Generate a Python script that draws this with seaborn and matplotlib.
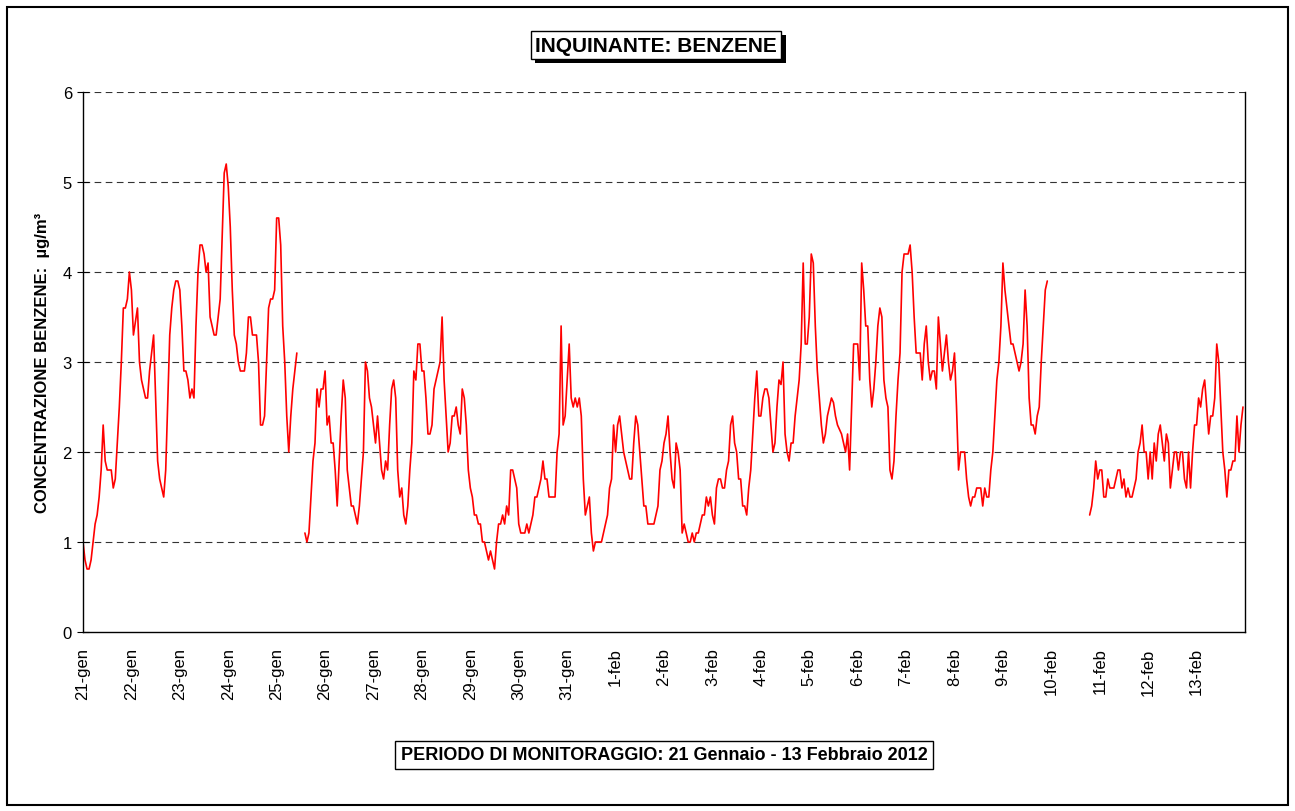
import numpy as np
import pandas as pd
import seaborn as sns
import matplotlib.pyplot as plt
from matplotlib.patches import Rectangle
from matplotlib import patheffects

# hourly benzene values (ug/m3), one list per day, None = missing
gen21 = [1.0, 0.8, 0.7, 0.7, 0.8, 1.0, 1.2, 1.3, 1.5, 1.8, 2.3, 1.9, 1.8, 1.8, 1.8, 1.6, 1.7, 2.1, 2.5, 3.0, 3.6, 3.6, 3.7, 4.0]
gen22 = [3.8, 3.3, 3.45, 3.6, 3.0, 2.8, 2.7, 2.6, 2.6, 2.9, 3.1, 3.3, 2.6, 1.9, 1.7, 1.6, 1.5, 1.8, 2.55, 3.3, 3.6, 3.8, 3.9, 3.9]
gen23 = [3.8, 3.4, 2.9, 2.9, 2.8, 2.6, 2.7, 2.6, 3.4, 4.0, 4.3, 4.3, 4.2, 4.0, 4.1, 3.5, 3.4, 3.3, 3.3, 3.5, 3.7, 4.4, 5.1, 5.2]
gen24 = [4.95, 4.5, 3.8, 3.3, 3.2, 3.0, 2.9, 2.9, 2.9, 3.1, 3.5, 3.5, 3.3, 3.3, 3.3, 3.0, 2.3, 2.3, 2.4, 3.0, 3.6, 3.7, 3.7, 3.8]
gen25 = [4.6, 4.6, 4.3, 3.4, 3.0, 2.4, 2.0, 2.4, 2.7, 2.9, 3.1, None, None, None, 1.1, 1.0, 1.1, 1.5, 1.9, 2.1, 2.7, 2.5, 2.7, 2.7]
gen26 = [2.9, 2.3, 2.4, 2.1, 2.1, 1.8, 1.4, 1.9, 2.4, 2.8, 2.6, 1.8, 1.6, 1.4, 1.4, 1.3, 1.2, 1.4, 1.7, 2.0, 3.0, 2.9, 2.6, 2.5]
gen27 = [2.3, 2.1, 2.4, 2.1, 1.8, 1.7, 1.9, 1.8, 2.3, 2.7, 2.8, 2.6, 1.8, 1.5, 1.6, 1.3, 1.2, 1.4, 1.8, 2.1, 2.9, 2.8, 3.2, 3.2]
gen28 = [2.9, 2.9, 2.6, 2.2, 2.2, 2.3, 2.7, 2.8, 2.9, 3.0, 3.5, 2.8, 2.4, 2.0, 2.1, 2.4, 2.4, 2.5, 2.3, 2.2, 2.7, 2.6, 2.3, 1.8]
gen29 = [1.6, 1.5, 1.3, 1.3, 1.2, 1.2, 1.0, 1.0, 0.9, 0.8, 0.9, 0.8, 0.7, 1.0, 1.2, 1.2, 1.3, 1.2, 1.4, 1.3, 1.8, 1.8, 1.7, 1.6]
gen30 = [1.2, 1.1, 1.1, 1.1, 1.2, 1.1, 1.2, 1.3, 1.5, 1.5, 1.6, 1.7, 1.9, 1.7, 1.7, 1.5, 1.5, 1.5, 1.5, 2.0, 2.2, 3.4, 2.3, 2.4]
gen31 = [2.8, 3.2, 2.6, 2.5, 2.6, 2.5, 2.6, 2.4, 1.7, 1.3, 1.4, 1.5, 1.1, 0.9, 1.0, 1.0, 1.0, 1.0, 1.1, 1.2, 1.3, 1.6, 1.7, 2.3]
feb01 = [2.0, 2.3, 2.4, 2.2, 2.0, 1.9, 1.8, 1.7, 1.7, 2.1, 2.4, 2.3, 2.0, 1.7, 1.4, 1.4, 1.2, 1.2, 1.2, 1.2, 1.3, 1.4, 1.8, 1.9]
feb02 = [2.1, 2.2, 2.4, 2.0, 1.7, 1.6, 2.1, 2.0, 1.8, 1.1, 1.2, 1.1, 1.0, 1.0, 1.1, 1.0, 1.1, 1.1, 1.2, 1.3, 1.3, 1.5, 1.4, 1.5]
feb03 = [1.3, 1.2, 1.6, 1.7, 1.7, 1.6, 1.6, 1.8, 1.9, 2.3, 2.4, 2.1, 2.0, 1.7, 1.7, 1.4, 1.4, 1.3, 1.6, 1.8, 2.2, 2.6, 2.9, 2.4]
feb04 = [2.4, 2.6, 2.7, 2.7, 2.6, 2.3, 2.0, 2.1, 2.5, 2.8, 2.75, 3.0, 2.2, 2.0, 1.9, 2.1, 2.1, 2.4, 2.6, 2.8, 3.2, 4.1, 3.2, 3.2]
feb05 = [3.5, 4.2, 4.1, 3.4, 2.9, 2.6, 2.3, 2.1, 2.2, 2.4, 2.5, 2.6, 2.55, 2.4, 2.3, 2.25, 2.2, 2.1, 2.0, 2.2, 1.8, 2.5, 3.2, 3.2]
feb06 = [3.2, 2.8, 4.1, 3.8, 3.4, 3.4, 2.8, 2.5, 2.7, 3.0, 3.4, 3.6, 3.5, 2.8, 2.6, 2.5, 1.8, 1.7, 1.9, 2.4, 2.8, 3.1, 4.0, 4.2]
feb07 = [4.2, 4.2, 4.3, 4.0, 3.5, 3.1, 3.1, 3.1, 2.8, 3.2, 3.4, 3.0, 2.8, 2.9, 2.9, 2.7, 3.5, 3.2, 2.9, 3.1, 3.3, 3.0, 2.8, 2.9]
feb08 = [3.1, 2.5, 1.8, 2.0, 2.0, 2.0, 1.7, 1.5, 1.4, 1.5, 1.5, 1.6, 1.6, 1.6, 1.4, 1.6, 1.5, 1.5, 1.8, 2.0, 2.4, 2.8, 3.0, 3.4]
feb09 = [4.1, 3.8, 3.6, 3.4, 3.2, 3.2, 3.1, 3.0, 2.9, 3.0, 3.2, 3.8, 3.4, 2.6, 2.3, 2.3, 2.2, 2.4, 2.5, 3.0, 3.4, 3.8, 3.9, None]
feb10 = [None] * 19 + [1.3, 1.4, 1.6, 1.9, 1.7]
feb11 = [1.8, 1.8, 1.5, 1.5, 1.7, 1.6, 1.6, 1.6, 1.7, 1.8, 1.8, 1.6, 1.7, 1.5, 1.6, 1.5, 1.5, 1.6, 1.7, 2.0, 2.1, 2.3, 2.0, 2.0]
feb12 = [1.7, 2.0, 1.7, 2.1, 1.9, 2.2, 2.3, 2.1, 1.9, 2.2, 2.1, 1.6, 1.8, 2.0, 2.0, 1.8, 2.0, 2.0, 1.7, 1.6, 2.0, 1.6, 2.0, 2.3]
feb13 = [2.3, 2.6, 2.5, 2.7, 2.8, 2.5, 2.2, 2.4, 2.4, 2.6, 3.2, 3.0, 2.5, 2.0, 1.8, 1.5, 1.8, 1.8, 1.9, 1.9, 2.4, 2.0, 2.3, 2.5]

days = [gen21, gen22, gen23, gen24, gen25, gen26, gen27, gen28, gen29, gen30, gen31,
        feb01, feb02, feb03, feb04, feb05, feb06, feb07, feb08, feb09, feb10,
        feb11, feb12, feb13]
day_labels = [f"{d}-gen" for d in range(21, 32)] + [f"{d}-feb" for d in range(1, 14)]

values = []
for d in days:
    assert len(d) == 24
    values += d

df = pd.DataFrame({"day": np.arange(len(values)) / 24.0,
                   "conc": pd.array(values, dtype="float")})
# split into continuous segments so gaps stay gaps
df["segment"] = df["conc"].isna().cumsum()
df = df.dropna()

sns.set_style("white")
plt.rcParams["font.family"] = ["Liberation Sans", "DejaVu Sans"]
plt.rcParams.update({"text.color": "black", "axes.labelcolor": "black",
                     "xtick.color": "black", "ytick.color": "black"})

fig = plt.figure(figsize=(12.95, 8.12), dpi=100)
ax = fig.add_axes([83 / 1295, 1 - 633 / 812, 1162 / 1295, 540 / 812])

sns.lineplot(data=df, x="day", y="conc", units="segment", estimator=None,
             color="#ff0000", linewidth=1.2, ax=ax)

ax.set_xlim(0, 24)
ax.set_ylim(0, 6)
ax.set_yticks(range(0, 7))
ax.set_xticks(range(0, 24))
ax.set_xticklabels(day_labels, rotation=90, fontsize=12)
ax.tick_params(axis="y", labelsize=12, length=8, width=0.8, direction="inout", left=True, pad=4)
ax.tick_params(axis="x", length=0, bottom=True, pad=11)

for v in range(1, 7):
    ax.axhline(v, color="#333333", linestyle=(0, (6, 4)), linewidth=0.8, zorder=0)

for side in ["left", "bottom", "right"]:
    ax.spines[side].set_color("black")
    ax.spines[side].set_linewidth(1.0)
ax.spines["top"].set_visible(False)

ax.set_xlabel("")
ax.set_ylabel("CONCENTRAZIONE BENZENE:  µg/m³", fontsize=12, fontweight="bold", labelpad=9)

# title with shadowed box
title = fig.text(656 / 1295, 1 - 46 / 812, "INQUINANTE: BENZENE", ha="center", va="center",
                 fontsize=15, fontweight="bold",
                 bbox=dict(boxstyle="square,pad=0.22", facecolor="white", edgecolor="black", linewidth=1.0))
title.get_bbox_patch().set_path_effects([
    patheffects.SimplePatchShadow(offset=(3, -3), shadow_rgbFace="black", alpha=1.0),
    patheffects.Normal(),
])

fig.text(664 / 1295, 1 - 756 / 812, "PERIODO DI MONITORAGGIO: 21 Gennaio - 13 Febbraio 2012",
         ha="center", va="center", fontsize=13, fontweight="bold",
         bbox=dict(boxstyle="square,pad=0.3", facecolor="white", edgecolor="black", linewidth=1.0))

# outer frame
fig.patches.append(Rectangle((7 / 1295, 6 / 812), 1281 / 1295, 798 / 812, transform=fig.transFigure,
                             fill=False, edgecolor="black", linewidth=1.5))

fig.savefig("out.png", dpi=100)
